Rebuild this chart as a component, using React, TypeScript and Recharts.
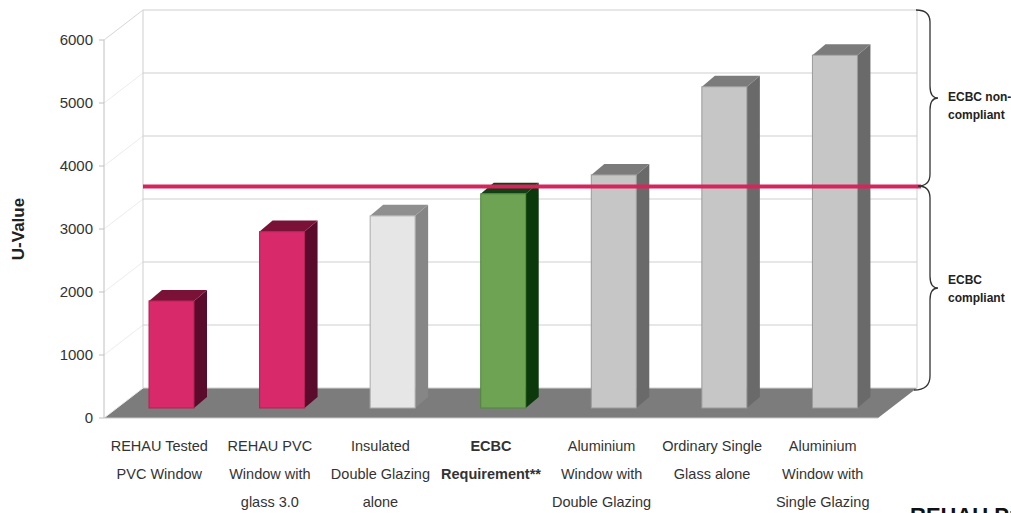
import React from 'react';
import { BarChart, Bar, XAxis, YAxis, CartesianGrid, ReferenceLine } from 'recharts';

// U-Werte je Fenstertyp
const categories = [
  'REHAU Tested\nPVC Window',
  'REHAU PVC\nWindow with\nglass 3.0',
  'Insulated\nDouble Glazing\nalone',
  'ECBC\nRequirement**',
  'Aluminium\nWindow with\nDouble Glazing',
  'Ordinary Single\nGlass alone',
  'Aluminium\nWindow with\nSingle Glazing',
];
const uValues = [1700, 2800, 3050, 3400, 3700, 5100, 5600];
const yTicks = [0, 1000, 2000, 3000, 4000, 5000, 6000];
const ecbcLimit = 3200;

const data = categories.map((name, i) => ({ name, value: uValues[i] }));

const pink = { front: '#d8296a', side: '#5a0a2b', top: '#7a1237', stroke: '#b32152' };
const grey = { front: '#c6c6c6', side: '#6a6a6a', top: '#7b7b7b', stroke: '#9a9a9a' };
const barColors = [
  pink,
  pink,
  { front: '#e6e6e6', side: '#868686', top: '#8f8f8f', stroke: '#ababab' },
  { front: '#6da352', side: '#0b390c', top: '#123f13', stroke: '#4f873b' },
  grey,
  grey,
  grey,
];

// 3D-Versatz: Rückwand, Balkenebene, Balkentiefe
const WALL_DX = 39;
const WALL_DY = 30;
const BAR_DX = 12;
const BAR_DY = 10;
const DEPTH_X = 13;
const DEPTH_Y = 11;

const font = '"Liberation Sans", Arial, sans-serif';

function Bar3D(props: any) {
  const { x, y, width, height, index } = props;
  const c = barColors[index] || grey;
  const fx = x + BAR_DX;
  const fy = y - BAR_DY;
  const r = fx + width;
  const b = fy + height;
  return (
    <g>
      <polygon
        points={`${r},${fy} ${r + DEPTH_X},${fy - DEPTH_Y} ${r + DEPTH_X},${b - DEPTH_Y} ${r},${b}`}
        fill={c.side}
      />
      <polygon
        points={`${fx},${fy} ${fx + DEPTH_X},${fy - DEPTH_Y} ${r + DEPTH_X},${fy - DEPTH_Y} ${r},${fy}`}
        fill={c.top}
      />
      <rect x={fx} y={fy} width={width} height={height} fill={c.front} stroke={c.stroke} strokeWidth={1} />
    </g>
  );
}

function BackWallLine(p: any) {
  const { x1, x2, y1, y, height } = p;
  const isFloor = typeof y === 'number' && Math.abs(y1 - (y + height)) < 1;
  const isTop = typeof y === 'number' && Math.abs(y1 - y) < 1;
  const bx1 = x1 + WALL_DX;
  const bx2 = x2 + WALL_DX;
  const by = y1 - WALL_DY;
  return (
    <g key={p.key}>
      {isFloor && (
        <polygon
          points={`${x1},${y1} ${bx1},${by} ${bx2},${by} ${x2},${y1}`}
          fill="#7c7c7c"
        />
      )}
      {isTop && (
        <>
          <line x1={bx1} y1={by} x2={bx1} y2={by + height} stroke="#cfcfcf" />
          <line x1={bx2} y1={by} x2={bx2} y2={by + height} stroke="#cfcfcf" />
        </>
      )}
      <line x1={x1} y1={y1} x2={bx1} y2={by} stroke={isTop ? '#d6d6d6' : '#ececec'} />
      <line x1={bx1} y1={by} x2={bx2} y2={by} stroke="#cfcfcf" />
    </g>
  );
}

function CategoryTick(props: any) {
  const { x, y, payload, index } = props;
  const lines = String(payload.value).split('\n');
  return (
    <text
      x={x}
      y={y}
      textAnchor="middle"
      fill="#333"
      fontSize={14.5}
      fontWeight={index === 3 ? 'bold' : 'normal'}
    >
      {lines.map((l, i) => (
        <tspan key={i} x={x} y={y + 33 + i * 28}>
          {l}
        </tspan>
      ))}
    </text>
  );
}

export default function App() {
  return (
    <div
      style={{
        position: 'fixed',
        left: 0,
        top: 0,
        width: 1011,
        height: 513,
        overflow: 'hidden',
        background: '#fff',
        fontFamily: font,
      }}
    >
      <BarChart
        width={1011}
        height={513}
        data={data}
        margin={{ top: 40, right: 133, bottom: 15, left: 44 }}
        style={{ fontFamily: font }}
      >
        <CartesianGrid vertical={false} horizontal={BackWallLine} />
        <XAxis
          dataKey="name"
          interval={0}
          height={80}
          tickSize={0}
          tickMargin={0}
          tickLine={false}
          axisLine={{ stroke: '#c8c8c8' }}
          tick={CategoryTick}
        />
        <YAxis
          type="number"
          domain={[0, 6000]}
          ticks={yTicks}
          width={60}
          tickSize={5}
          tickMargin={6}
          axisLine={{ stroke: '#c0c0c0' }}
          tickLine={{ stroke: '#c0c0c0' }}
          tick={{ fill: '#333', fontSize: 15 }}
        />
        <Bar dataKey="value" barSize={45} isAnimationActive={false} shape={Bar3D} />
        <ReferenceLine
          y={ecbcLimit}
          ifOverflow="visible"
          shape={(p: any) => (
            <line
              x1={p.x1 + WALL_DX}
              y1={p.y1 - WALL_DY}
              x2={p.x2 + WALL_DX + 4}
              y2={p.y2 - WALL_DY}
              stroke="#d6245f"
              strokeWidth={4}
            />
          )}
        />
      </BarChart>
      <svg
        width={1011}
        height={513}
        style={{ position: 'absolute', left: 0, top: 0, pointerEvents: 'none' }}
      >
        <g fontFamily={font}>
          <path
            d="M916,10 Q930,10 930,22 L930,86 Q930,98 938,98 Q930,98 930,110 L930,174 Q930,186 918,186"
            fill="none"
            stroke="#333"
            strokeWidth={1.3}
          />
          <path
            d="M918,186 Q930,186 930,198 L930,276 Q930,288 938,288 Q930,288 930,300 L930,376 Q930,390 914,390"
            fill="none"
            stroke="#333"
            strokeWidth={1.3}
          />
          <text x={948} y={101} fontSize={12} fontWeight="bold" fill="#222">ECBC non-</text>
          <text x={948} y={119} fontSize={12} fontWeight="bold" fill="#222">compliant</text>
          <text x={948} y={284} fontSize={12} fontWeight="bold" fill="#222">ECBC</text>
          <text x={948} y={302} fontSize={12} fontWeight="bold" fill="#222">compliant</text>
          <text
            x={20}
            y={229}
            transform="rotate(-90 20 229)"
            textAnchor="middle"
            dominantBaseline="middle"
            fontSize={17}
            fontWeight="bold"
            fill="#222"
          >
            U-Value
          </text>
          <text x={910} y={523} fontSize={22} fontWeight="bold" fill="#111">REHAU Pr</text>
        </g>
      </svg>
    </div>
  );
}
